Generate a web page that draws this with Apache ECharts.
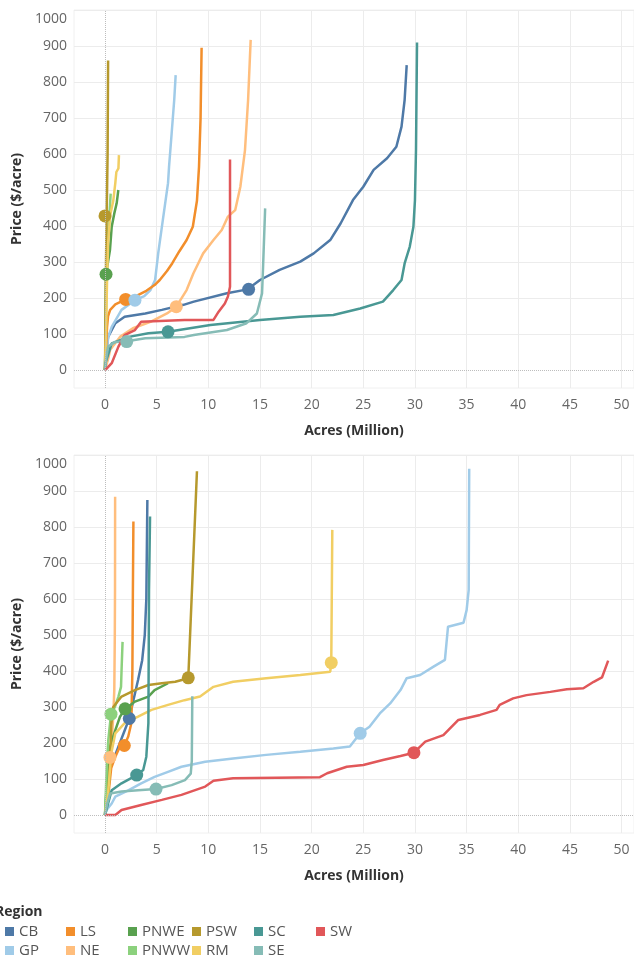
<!DOCTYPE html>
<html>
<head>
<meta charset="utf-8">
<script src="https://cdn.jsdelivr.net/npm/echarts@6/dist/echarts.min.js"></script>
<style>
  html, body { margin: 0; padding: 0; background: #fff; }
  #chart { width: 634px; height: 963px; }
</style>
</head>
<body>
<div id="chart"></div>
<script>
// regions, in legend order
const regions = ['CB', 'GP', 'LS', 'NE', 'PNWE', 'PNWW', 'PSW', 'RM', 'SC', 'SE', 'SW'];
// legend columns (Tableau fills them top to bottom)
const legendColumns = [['CB', 'GP'], ['LS', 'NE'], ['PNWE', 'PNWW'], ['PSW', 'RM'], ['SC', 'SE'], ['SW']];

const xTicks = [0, 5, 10, 15, 20, 25, 30, 35, 40, 45, 50];
const yTicks = [0, 100, 200, 300, 400, 500, 600, 700, 800, 900, 1000];

// upper panel curves: [acres (million), price ($/acre)]
const cbTop = [[0, 0], [0.05, 30], [0.3, 92], [1.0, 130], [1.9, 148], [3.9, 157], [5.5, 167], [7.6, 181], [8.6, 190], [11.8, 213], [13.8, 224], [15.0, 250], [16.9, 278], [18.9, 301], [20.2, 324], [21.8, 361], [22.8, 407], [24.0, 472], [25.0, 509], [26.0, 556], [27.3, 588], [28.2, 620], [28.7, 676], [29.0, 750], [29.2, 847]];
const gpTop = [[0, 0], [0.15, 40], [0.3, 90], [0.65, 120], [1.6, 167], [2.9, 194], [3.8, 205], [4.4, 222], [4.85, 250], [5.15, 324], [5.6, 417], [6.1, 519], [6.2, 565], [6.45, 657], [6.7, 750], [6.84, 819]];
const lsTop = [[0, 0], [0.1, 60], [0.2, 120], [0.3, 150], [0.5, 167], [1.0, 182], [2.0, 196], [3.0, 205], [4.0, 220], [4.8, 236], [5.3, 250], [6.0, 275], [6.5, 296], [7.2, 330], [7.9, 361], [8.5, 398], [8.9, 470], [9.1, 565], [9.25, 700], [9.35, 895]];
const neTop = [[0, 0], [0.3, 30], [0.5, 56], [1.45, 92], [2.7, 116], [4.4, 134], [6.0, 157], [6.9, 176], [7.9, 222], [8.55, 268], [9.5, 324], [10.5, 361], [11.3, 389], [11.9, 426], [12.6, 444], [13.1, 509], [13.55, 611], [13.85, 750], [14.1, 917]];
const pnweTop = [[0, 0], [0.05, 100], [0.08, 230], [0.1, 266], [0.48, 333], [0.65, 398], [0.9, 435], [1.13, 463], [1.29, 500]];
const pnwwTop = [[0, 0], [0.1, 150], [0.15, 300], [0.3, 380], [0.45, 440], [0.55, 490]];
const pswTop = [[0, 0], [0.05, 150], [0.1, 300], [0.15, 420], [0.2, 500], [0.25, 600], [0.3, 860]];
const rmTop = [[0, 0], [0.1, 100], [0.2, 250], [0.3, 350], [0.5, 430], [0.8, 470], [1.0, 520], [1.1, 550], [1.3, 560], [1.35, 597]];
const scTop = [[0, 0], [0.05, 20], [0.65, 74], [2.3, 92], [4.2, 102], [6.1, 106], [10.2, 125], [15.0, 139], [18.9, 148], [22.1, 153], [24.7, 171], [26.9, 190], [27.9, 222], [28.7, 250], [29.0, 296], [29.5, 343], [29.85, 398], [30.0, 472], [30.1, 611], [30.2, 910]];
const seTop = [[0, 0], [0.1, 30], [0.3, 65], [1.0, 78], [2.1, 80], [3.9, 88], [7.7, 92], [8.6, 97], [11.8, 111], [13.7, 130], [14.7, 157], [15.2, 213], [15.3, 287], [15.5, 449]];
const swTop = [[0, 0], [0.2, 5], [0.65, 19], [1.3, 65], [1.9, 97], [2.9, 111], [3.5, 134], [7.7, 139], [10.5, 139], [11.0, 162], [11.6, 185], [11.9, 204], [12.1, 231], [12.1, 585]];

// lower panel curves
const cbBottom = [[0, 0], [0.05, 20], [0.15, 69], [0.3, 125], [0.8, 153], [1.3, 190], [1.8, 227], [2.35, 268], [2.75, 319], [3.2, 375], [3.6, 430], [3.85, 500], [4.0, 600], [4.1, 875]];
const gpBottom = [[0, 0], [0.15, 14], [0.65, 32], [1.0, 51], [2.3, 69], [3.5, 88], [4.8, 106], [6.1, 120], [7.4, 134], [9.7, 148], [12.4, 157], [15.6, 167], [18.9, 176], [22.1, 185], [23.7, 190], [24.7, 227], [25.6, 245], [26.6, 282], [27.6, 310], [28.6, 347], [29.2, 380], [30.5, 389], [31.8, 412], [32.9, 431], [33.2, 523], [34.7, 534], [35.0, 569], [35.2, 625], [35.25, 962]];
const lsBottom = [[0, 0], [0.3, 50], [0.6, 130], [1.0, 162], [1.45, 190], [1.9, 195], [2.25, 218], [2.55, 255], [2.65, 400], [2.7, 625], [2.75, 815]];
const neBottom = [[0, 0], [0.2, 60], [0.35, 120], [0.48, 162], [0.65, 208], [0.8, 273], [0.9, 347], [0.95, 500], [0.97, 625], [0.98, 884]];
const pnweBottom = [[0, 0], [0.2, 100], [0.4, 180], [0.7, 210], [1.0, 236], [1.45, 273], [1.94, 294], [2.9, 315], [4.2, 329], [4.8, 347], [6.1, 366]];
const pnwwBottom = [[0, 0], [0.1, 80], [0.2, 150], [0.32, 208], [0.58, 280], [0.97, 301], [1.3, 329], [1.55, 356], [1.6, 400], [1.7, 481]];
const pswBottom = [[0, 0], [0.3, 50], [0.5, 150], [0.6, 250], [0.8, 300], [1.6, 329], [2.9, 347], [4.2, 361], [5.5, 366], [6.8, 370], [8.06, 380], [8.9, 955]];
const rmBottom = [[0, 0], [0.3, 60], [0.6, 170], [1.0, 227], [1.9, 255], [3.2, 273], [4.5, 292], [6.1, 306], [7.7, 319], [9.2, 329], [10.5, 356], [12.4, 370], [15.6, 380], [18.9, 389], [21.8, 398], [21.9, 423], [22.0, 792]];
const scBottom = [[0, 0], [0.1, 10], [0.3, 32], [0.65, 69], [1.6, 88], [3.07, 111], [3.7, 125], [4.0, 162], [4.2, 255], [4.26, 625], [4.36, 829]];
const seBottom = [[0, 0], [0.2, 30], [0.5, 60], [1.6, 65], [3.2, 69], [4.94, 72], [6.45, 83], [7.74, 97], [8.3, 115], [8.4, 150], [8.45, 330]];
const swBottom = [[0, 0], [1.0, 0], [1.6, 14], [3.5, 28], [5.5, 42], [7.4, 56], [9.7, 79], [10.5, 95], [12.4, 102], [20.8, 105], [21.5, 116], [23.4, 134], [25.0, 139], [26.9, 153], [28.6, 164], [29.9, 173], [31.0, 204], [32.75, 222], [34.2, 264], [36.3, 278], [37.9, 292], [38.2, 306], [39.5, 324], [40.8, 333], [43.1, 342], [44.7, 349], [46.3, 352], [47.3, 370], [48.1, 382], [48.7, 429]];

// highlighted points [region, acres, price]
const dotsTop = [['PSW', 0.0, 428], ['PNWE', 0.1, 266], ['LS', 2.0, 196], ['GP', 2.9, 194], ['NE', 6.9, 176], ['SE', 2.1, 79], ['SC', 6.1, 106], ['CB', 13.9, 224]];
const dotsBottom = [['PSW', 8.06, 381], ['RM', 21.9, 423], ['GP', 24.7, 227], ['SW', 29.9, 173], ['CB', 2.35, 268], ['PNWE', 1.94, 295], ['PNWW', 0.58, 280], ['LS', 1.87, 193], ['NE', 0.48, 160], ['SC', 3.07, 111], ['SE', 4.94, 72]];

const topCurves = { CB: cbTop, GP: gpTop, LS: lsTop, NE: neTop, PNWE: pnweTop, PNWW: pnwwTop, PSW: pswTop, RM: rmTop, SC: scTop, SE: seTop, SW: swTop };
const bottomCurves = { CB: cbBottom, GP: gpBottom, LS: lsBottom, NE: neBottom, PNWE: pnweBottom, PNWW: pnwwBottom, PSW: pswBottom, RM: rmBottom, SC: scBottom, SE: seBottom, SW: swBottom };

const colors = {
    CB: '#4e79a7', GP: '#a0cbe8', LS: '#f28e2b', NE: '#ffbe7d', PNWE: '#59a14f', PNWW: '#8cd17d',
    PSW: '#b6992d', RM: '#f1ce63', SC: '#499894', SE: '#86bcb6', SW: '#e15759'
};

const font = '"Open Sans", "Noto Sans", sans-serif';
const zeroLine = {
    silent: true,
    symbol: 'none',
    label: { show: false },
    lineStyle: { type: 'dotted', color: '#bdbdbd', width: 1 },
    data: [{ xAxis: 0 }, { yAxis: 0 }]
};

function makeXAxis(gridIndex) {
    return {
        type: 'value', gridIndex: gridIndex, min: -3, max: 51.2,
        name: 'Acres (Million)', nameLocation: 'middle', nameGap: 36,
        nameTextStyle: { fontFamily: font, fontSize: 14, fontWeight: 'bold', color: '#333' },
        axisLine: { show: false },
        axisTick: { show: false, customValues: xTicks.slice(1) },
        axisLabel: { customValues: xTicks, margin: 10, fontFamily: font, fontSize: 14, color: '#666' },
        splitLine: { show: true, lineStyle: { color: '#ececec', width: 1 } }
    };
}

function makeYAxis(gridIndex) {
    return {
        type: 'value', gridIndex: gridIndex, min: -50, max: 1000,
        name: 'Price ($/acre)', nameLocation: 'middle', nameGap: 50,
        nameTextStyle: { fontFamily: font, fontSize: 14, fontWeight: 'bold', color: '#333' },
        axisLine: { show: false },
        axisTick: { show: false, customValues: yTicks.slice(1) },
        axisLabel: {
            customValues: yTicks, margin: 7, fontFamily: font, fontSize: 14, color: '#666',
            formatter: function (v) { return v === 1000 ? '{top|1000}' : String(v); },
            rich: { top: { padding: [18, 0, 0, 0], fontFamily: font, fontSize: 14, color: '#666' } }
        },
        splitLine: { show: true, lineStyle: { color: '#ececec', width: 1 } }
    };
}

let series = [];
[topCurves, bottomCurves].forEach(function (curves, g) {
    regions.forEach(function (r, i) {
        let s = {
            name: r, type: 'line', xAxisIndex: g, yAxisIndex: g,
            data: curves[r], showSymbol: false, symbol: 'none',
            lineStyle: { color: colors[r], width: 2.5 },
            itemStyle: { color: colors[r] },
            z: 2
        };
        if (i === 0) s.markLine = zeroLine;
        series.push(s);
    });
});
[dotsTop, dotsBottom].forEach(function (dots, g) {
    dots.forEach(function (d) {
        series.push({
            name: d[0], type: 'scatter', xAxisIndex: g, yAxisIndex: g,
            data: [[d[1], d[2]]], symbolSize: 13,
            itemStyle: { color: colors[d[0]], opacity: 1 },
            z: 3
        });
    });
});

const legendLeft = [5, 66, 128, 192, 254, 316];
let legends = legendColumns.map(function (items, i) {
    return {
        data: items, left: legendLeft[i], top: 924, orient: 'vertical',
        icon: 'rect', itemWidth: 9, itemHeight: 9, itemGap: 4,
        selectedMode: false, padding: 0,
        textStyle: { fontFamily: font, fontSize: 15, color: '#555' }
    };
});

let chart = echarts.init(document.getElementById('chart'));
chart.setOption({
    animation: false,
    backgroundColor: '#fff',
    graphic: [{
        type: 'text', left: -5, top: 905,
        style: { text: 'Region', font: 'bold 14px ' + font, fill: '#333' }
    }],
    legend: legends,
    grid: [
        { left: 74, top: 10, width: 560, height: 378, show: true, borderColor: '#f0f0f0', borderWidth: 1, containLabel: false },
        { left: 74, top: 455, width: 560, height: 378, show: true, borderColor: '#f0f0f0', borderWidth: 1, containLabel: false }
    ],
    xAxis: [makeXAxis(0), makeXAxis(1)],
    yAxis: [makeYAxis(0), makeYAxis(1)],
    series: series
});
</script>
</body>
</html>
